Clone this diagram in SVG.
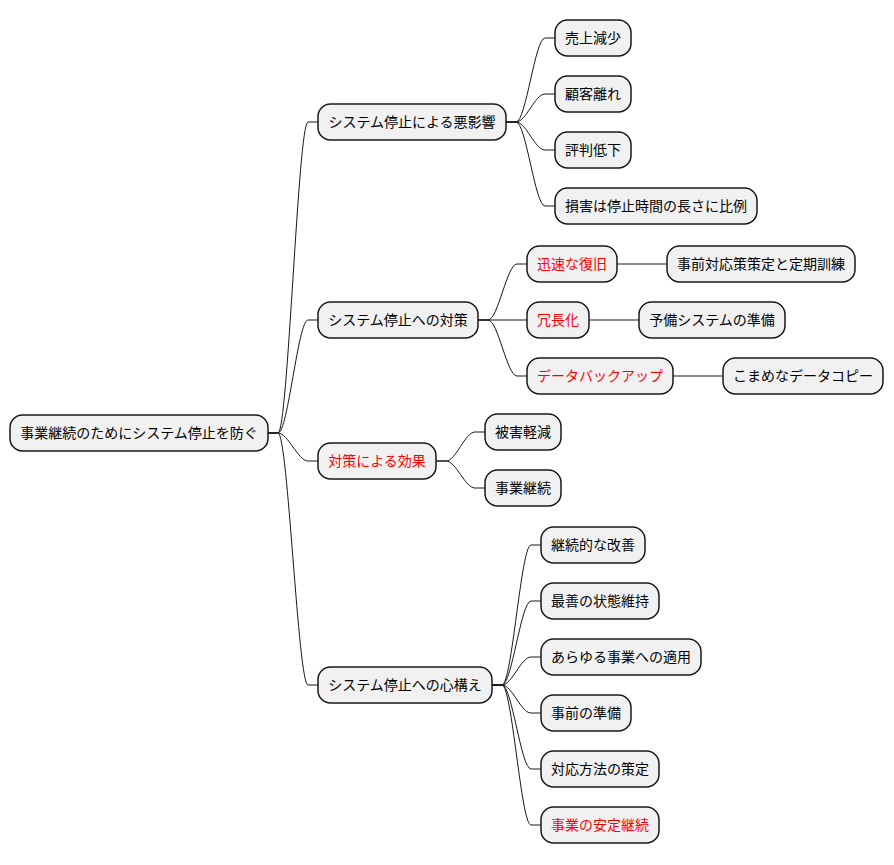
<svg xmlns="http://www.w3.org/2000/svg" width="894" height="865" viewBox="0 0 894 865">
<style>
.n rect{fill:#F1F1F1;stroke:#181818;stroke-width:1.5}
.n text{font-family:"Noto Sans CJK JP","Noto Sans",sans-serif;font-size:14px;fill:#000000;text-anchor:middle}
.n text.r{fill:#FF0000}
.c path{fill:none;stroke:#181818;stroke-width:1}
</style>
<rect width="894" height="865" fill="#FFFFFF"/>
<g class="c">
<path d="M268,433 L278,433 C288,433 298,122 308,122 L318,122"/>
<path d="M268,433 L278,433 C288,433 298,320 308,320 L318,320"/>
<path d="M268,433 L278,433 C288,433 298,461 308,461 L318,461"/>
<path d="M268,433 L278,433 C288,433 298,685 308,685 L318,685"/>
<path d="M506,122 L516,122 C526,122 535,38 545,38 L555,38"/>
<path d="M506,122 L516,122 C526,122 535,94 545,94 L555,94"/>
<path d="M506,122 L516,122 C526,122 535,150 545,150 L555,150"/>
<path d="M506,122 L516,122 C526,122 535,206 545,206 L555,206"/>
<path d="M478,320 L488,320 C498,320 507,264 517,264 L527,264"/>
<path d="M478,320 L527,320"/>
<path d="M478,320 L488,320 C498,320 507,376 517,376 L527,376"/>
<path d="M617,264 L667,264"/>
<path d="M589,320 L639,320"/>
<path d="M673,376 L723,376"/>
<path d="M436,461 L446,461 C456,461 465,432 475,432 L485,432"/>
<path d="M436,461 L446,461 C456,461 465,488 475,488 L485,488"/>
<path d="M492,685 L502,685 C512,685 521,545 531,545 L541,545"/>
<path d="M492,685 L502,685 C512,685 521,601 531,601 L541,601"/>
<path d="M492,685 L502,685 C512,685 521,657 531,657 L541,657"/>
<path d="M492,685 L502,685 C512,685 521,713 531,713 L541,713"/>
<path d="M492,685 L502,685 C512,685 521,769 531,769 L541,769"/>
<path d="M492,685 L502,685 C512,685 521,825 531,825 L541,825"/>
</g>
<g id="root" class="n"><rect x="10" y="415" width="258" height="36" rx="12.5"/><text x="139" y="438">事業継続のためにシステム停止を防ぐ</text></g>
<g id="a" class="n"><rect x="318" y="104" width="188" height="36" rx="12.5"/><text x="412" y="127">システム停止による悪影響</text></g>
<g id="a1" class="n"><rect x="555" y="20" width="76" height="36" rx="12.5"/><text x="593" y="43">売上減少</text></g>
<g id="a2" class="n"><rect x="555" y="76" width="76" height="36" rx="12.5"/><text x="593" y="99">顧客離れ</text></g>
<g id="a3" class="n"><rect x="555" y="132" width="76" height="36" rx="12.5"/><text x="593" y="155">評判低下</text></g>
<g id="a4" class="n"><rect x="555" y="188" width="202" height="36" rx="12.5"/><text x="656" y="211">損害は停止時間の長さに比例</text></g>
<g id="b" class="n"><rect x="318" y="302" width="160" height="36" rx="12.5"/><text x="398" y="325">システム停止への対策</text></g>
<g id="b1" class="n"><rect x="527" y="246" width="90" height="36" rx="12.5"/><text class="r" x="572" y="269">迅速な復旧</text></g>
<g id="b1a" class="n"><rect x="667" y="246" width="188" height="36" rx="12.5"/><text x="761" y="269">事前対応策策定と定期訓練</text></g>
<g id="b2" class="n"><rect x="527" y="302" width="62" height="36" rx="12.5"/><text class="r" x="558" y="325">冗長化</text></g>
<g id="b2a" class="n"><rect x="639" y="302" width="146" height="36" rx="12.5"/><text x="712" y="325">予備システムの準備</text></g>
<g id="b3" class="n"><rect x="527" y="358" width="146" height="36" rx="12.5"/><text class="r" x="600" y="381">データバックアップ</text></g>
<g id="b3a" class="n"><rect x="723" y="358" width="160" height="36" rx="12.5"/><text x="803" y="381">こまめなデータコピー</text></g>
<g id="c" class="n"><rect x="318" y="443" width="118" height="36" rx="12.5"/><text class="r" x="377" y="466">対策による効果</text></g>
<g id="c1" class="n"><rect x="485" y="414" width="76" height="36" rx="12.5"/><text x="523" y="437">被害軽減</text></g>
<g id="c2" class="n"><rect x="485" y="470" width="76" height="36" rx="12.5"/><text x="523" y="493">事業継続</text></g>
<g id="d" class="n"><rect x="318" y="667" width="174" height="36" rx="12.5"/><text x="405" y="690">システム停止への心構え</text></g>
<g id="d1" class="n"><rect x="541" y="527" width="104" height="36" rx="12.5"/><text x="593" y="550">継続的な改善</text></g>
<g id="d2" class="n"><rect x="541" y="583" width="118" height="36" rx="12.5"/><text x="600" y="606">最善の状態維持</text></g>
<g id="d3" class="n"><rect x="541" y="639" width="160" height="36" rx="12.5"/><text x="621" y="662">あらゆる事業への適用</text></g>
<g id="d4" class="n"><rect x="541" y="695" width="90" height="36" rx="12.5"/><text x="586" y="718">事前の準備</text></g>
<g id="d5" class="n"><rect x="541" y="751" width="118" height="36" rx="12.5"/><text x="600" y="774">対応方法の策定</text></g>
<g id="d6" class="n"><rect x="541" y="807" width="118" height="36" rx="12.5"/><text class="r" x="600" y="830">事業の安定継続</text></g>
</svg>
